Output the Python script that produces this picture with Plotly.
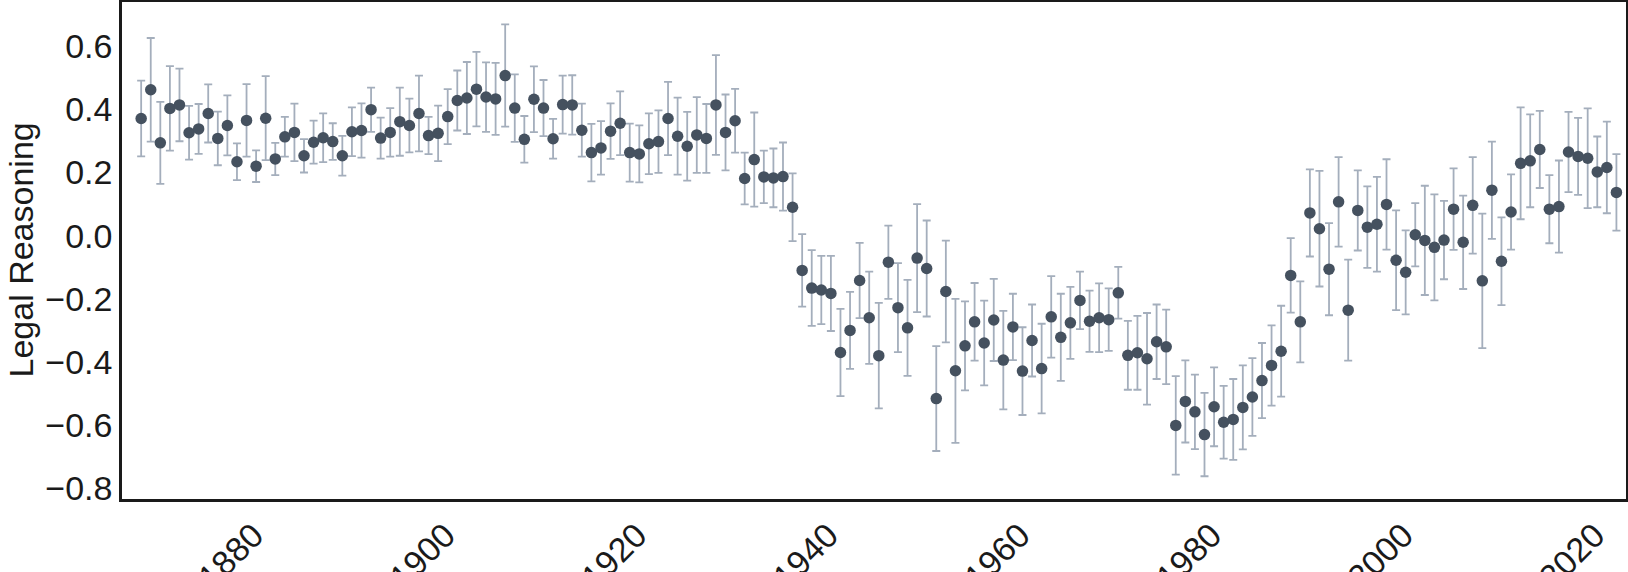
import plotly.graph_objects as go

years = list(range(1867, 2022))

values = [
    0.371, 0.462, 0.294, 0.403, 0.414, 0.326, 0.338, 0.387, 0.308, 0.349,   # 1867-1876
    0.234, 0.365, 0.220, 0.372, 0.243, 0.313, 0.327, 0.253, 0.296, 0.310,   # 1877-1886
    0.298, 0.253, 0.329, 0.333, 0.399, 0.309, 0.327, 0.361, 0.349, 0.387,   # 1887-1896
    0.317, 0.324, 0.377, 0.428, 0.436, 0.464, 0.439, 0.433, 0.507, 0.404,   # 1897-1906
    0.305, 0.432, 0.404, 0.307, 0.415, 0.414, 0.334, 0.263, 0.278, 0.331,   # 1907-1916
    0.356, 0.263, 0.259, 0.291, 0.298, 0.371, 0.315, 0.283, 0.319, 0.308,   # 1917-1926
    0.414, 0.327, 0.364, 0.181, 0.241, 0.186, 0.183, 0.187, 0.090, -0.110,  # 1927-1936
    -0.166, -0.172, -0.183, -0.370, -0.300, -0.142, -0.260, -0.380, -0.084, -0.228,  # 1937-1946
    -0.292, -0.071, -0.104, -0.516, -0.177, -0.428, -0.349, -0.273, -0.340, -0.267,  # 1947-1956
    -0.394, -0.289, -0.429, -0.332, -0.421, -0.257, -0.322, -0.276, -0.205, -0.271,  # 1957-1966
    -0.260, -0.266, -0.181, -0.379, -0.371, -0.390, -0.336, -0.352, -0.601, -0.525,  # 1967-1976
    -0.558, -0.630, -0.542, -0.591, -0.582, -0.544, -0.511, -0.459, -0.411, -0.366,  # 1977-1986
    -0.126, -0.273, 0.072, 0.022, -0.106, 0.107, -0.236, 0.080, 0.027, 0.036,  # 1987-1996
    0.099, -0.078, -0.116, 0.003, -0.015, -0.037, -0.014, 0.084, -0.021, 0.096,  # 1997-2006
    -0.143, 0.144, -0.081, 0.075, 0.229, 0.237, 0.273, 0.084, 0.092, 0.265,  # 2007-2016
    0.251, 0.245, 0.202, 0.216, 0.137,  # 2017-2021
]

errors = [
    0.120, 0.164, 0.130, 0.134, 0.115, 0.085, 0.079, 0.092, 0.085, 0.095,
    0.058, 0.115, 0.050, 0.133, 0.051, 0.063, 0.091, 0.053, 0.068, 0.077,
    0.058, 0.063, 0.077, 0.086, 0.070, 0.065, 0.077, 0.108, 0.085, 0.120,
    0.059, 0.088, 0.087, 0.095, 0.114, 0.118, 0.110, 0.114, 0.162, 0.107,
    0.074, 0.104, 0.089, 0.063, 0.092, 0.094, 0.084, 0.091, 0.085, 0.088,
    0.101, 0.092, 0.090, 0.096, 0.099, 0.116, 0.122, 0.109, 0.120, 0.109,
    0.158, 0.120, 0.101, 0.082, 0.149, 0.083, 0.093, 0.108, 0.107, 0.115,
    0.120, 0.108, 0.119, 0.138, 0.122, 0.119, 0.146, 0.167, 0.116, 0.141,
    0.152, 0.171, 0.152, 0.166, 0.161, 0.228, 0.141, 0.123, 0.134, 0.130,
    0.156, 0.105, 0.139, 0.114, 0.142, 0.129, 0.138, 0.114, 0.091, 0.097,
    0.109, 0.099, 0.082, 0.109, 0.117, 0.145, 0.118, 0.118, 0.156, 0.130,
    0.118, 0.132, 0.125, 0.115, 0.128, 0.133, 0.123, 0.119, 0.127, 0.144,
    0.118, 0.128, 0.138, 0.183, 0.146, 0.142, 0.160, 0.127, 0.129, 0.150,
    0.143, 0.158, 0.133, 0.100, 0.173, 0.168, 0.124, 0.129, 0.148, 0.153,
    0.213, 0.154, 0.139, 0.119, 0.177, 0.147, 0.122, 0.108, 0.146, 0.127,
    0.122, 0.158, 0.112, 0.145, 0.121,
]

x_ticks = [1880, 1900, 1920, 1940, 1960, 1980, 2000, 2020]
y_ticks = [-0.8, -0.6, -0.4, -0.2, 0.0, 0.2, 0.4, 0.6]
y_title = "Legal Reasoning"

assert len(values) == len(years) == len(errors)

MARKER = "#45515f"
ERRC = "#a4aebc"
INK = "#1a1a1a"
FONT = "Liberation Sans, Arial, Helvetica, sans-serif"
FS = 34

fig = go.Figure()
fig.add_trace(go.Scatter(
    x=years, y=values, mode="markers",
    marker=dict(color=MARKER, size=11.5, line=dict(width=0)),
    error_y=dict(type="data", array=errors, visible=True,
                 color=ERRC, thickness=1.8, width=4),
    showlegend=False,
))

fig.update_layout(
    width=1628, height=572,
    margin=dict(l=122, r=2, t=2, b=73, autoexpand=False),
    paper_bgcolor="white", plot_bgcolor="white",
    font=dict(family=FONT, size=FS, color=INK),
)
fig.update_xaxes(
    range=[1865, 2022], tickvals=x_ticks, ticktext=[str(t) for t in x_ticks],
    tickangle=-45, showgrid=False, zeroline=False,
    showline=True, mirror=True, linecolor=INK, linewidth=2.5,
    ticks="", automargin=False, ticklabelshift=-12,
    tickfont=dict(size=FS),
)
fig.update_yaxes(
    range=[-0.834, 0.740], tickvals=y_ticks, tickformat=".1f",
    showgrid=False, zeroline=False,
    showline=True, mirror=True, linecolor=INK, linewidth=2.5,
    ticks="", automargin=False, ticklabelstandoff=0,
    tickfont=dict(size=FS),
)

plot_w = 1628 - 122 - 2
fig.add_annotation(
    text=y_title, textangle=-90, showarrow=False,
    xref="paper", yref="paper", x=(20 - 122) / plot_w, y=0.5,
    xanchor="center", yanchor="middle",
    font=dict(size=FS, family=FONT, color=INK),
)

fig.write_html("out.html")
